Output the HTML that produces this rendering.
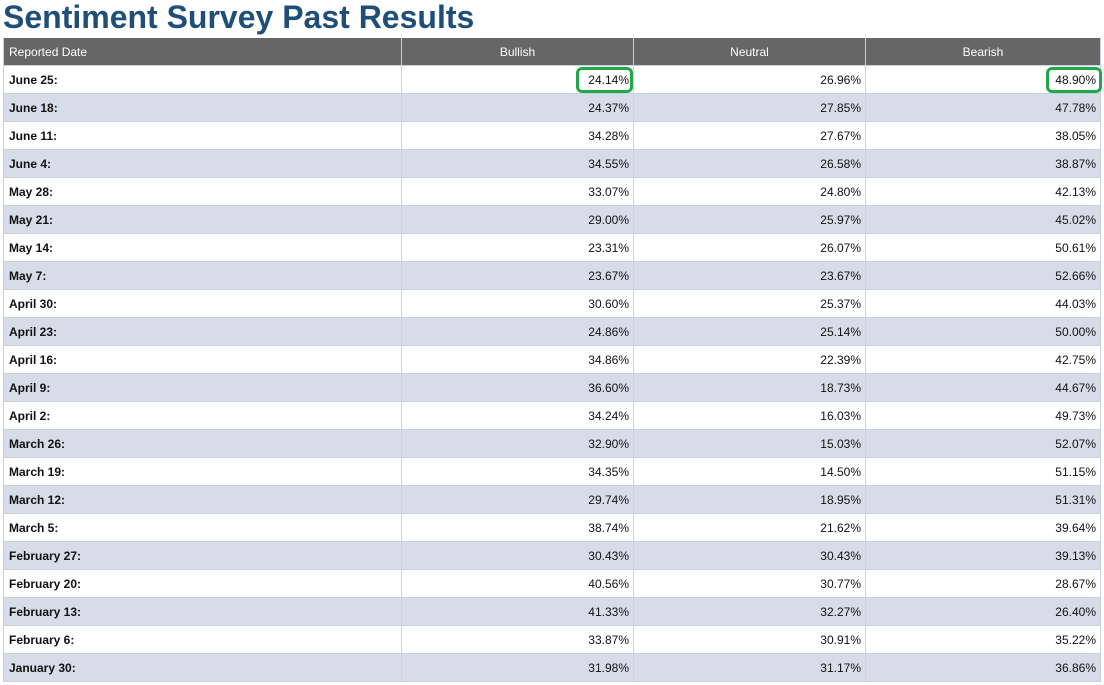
<!DOCTYPE html>
<html><head><meta charset="utf-8"><style>
body{margin:0;width:1104px;height:685px;background:#fff;font-family:"Liberation Sans",Arial,sans-serif;overflow:hidden;position:relative}
h1{position:absolute;left:3px;top:-1px;margin:0;font-size:32px;font-weight:bold;color:#1f4e79;letter-spacing:0}
.row{position:absolute;left:3px;width:1098px;height:28px;box-sizing:border-box;border-bottom:1px solid #c9d2dd;font-size:12px;color:#111}
.row.alt{background:#d6dde8}
.row.hdr{background:#666;color:#fff;border-bottom:1px solid #c9d2dd}
.c{position:absolute;top:0;height:27px;line-height:28px;box-sizing:border-box;border-left:1px solid #c9d2dd}
.c0{left:0;width:398px;padding-left:5px;font-weight:bold}
.c1{left:398px;width:232px;text-align:right;padding-right:4px}
.c2{left:630px;width:232px;text-align:right;padding-right:4px}
.c3{left:862px;width:236px;text-align:right;padding-right:4px;border-right:1px solid #c9d2dd}
.hdr .c{text-align:center;padding:0}
.hdr .c0{text-align:left;padding-left:5px;font-weight:normal}
.hl{position:absolute;border:3px solid #22a84a;border-radius:6px;box-sizing:border-box}
</style></head><body>
<h1>Sentiment Survey Past Results</h1>
<div class="row hdr" style="top:38px">
<div class="c c0">Reported Date</div>
<div class="c c1">Bullish</div>
<div class="c c2">Neutral</div>
<div class="c c3">Bearish</div>
</div>
<div id="rows"></div>
<div class="hl" style="left:576px;top:67px;width:57px;height:26px"></div>
<div class="hl" style="left:1046px;top:67px;width:56px;height:26px"></div>
<script>
const dates=["June 25:","June 18:","June 11:","June 4:","May 28:","May 21:","May 14:","May 7:","April 30:","April 23:","April 16:","April 9:","April 2:","March 26:","March 19:","March 12:","March 5:","February 27:","February 20:","February 13:","February 6:","January 30:"];
const bullish=["24.14%","24.37%","34.28%","34.55%","33.07%","29.00%","23.31%","23.67%","30.60%","24.86%","34.86%","36.60%","34.24%","32.90%","34.35%","29.74%","38.74%","30.43%","40.56%","41.33%","33.87%","31.98%"];
const neutral=["26.96%","27.85%","27.67%","26.58%","24.80%","25.97%","26.07%","23.67%","25.37%","25.14%","22.39%","18.73%","16.03%","15.03%","14.50%","18.95%","21.62%","30.43%","30.77%","32.27%","30.91%","31.17%"];
const bearish=["48.90%","47.78%","38.05%","38.87%","42.13%","45.02%","50.61%","52.66%","44.03%","50.00%","42.75%","44.67%","49.73%","52.07%","51.15%","51.31%","39.64%","39.13%","28.67%","26.40%","35.22%","36.86%"];
const host=document.getElementById('rows');
dates.forEach((d,i)=>{
  const r=document.createElement('div');
  r.className='row'+(i%2?' alt':'');
  r.style.top=(66+i*28)+'px';
  
  
  [d,bullish[i],neutral[i],bearish[i]].forEach((t,j)=>{
    const c=document.createElement('div');
    c.className='c c'+j;
    c.textContent=t;
    
    
    r.appendChild(c);
  });
  host.appendChild(r);
});
</script>
</body></html>
